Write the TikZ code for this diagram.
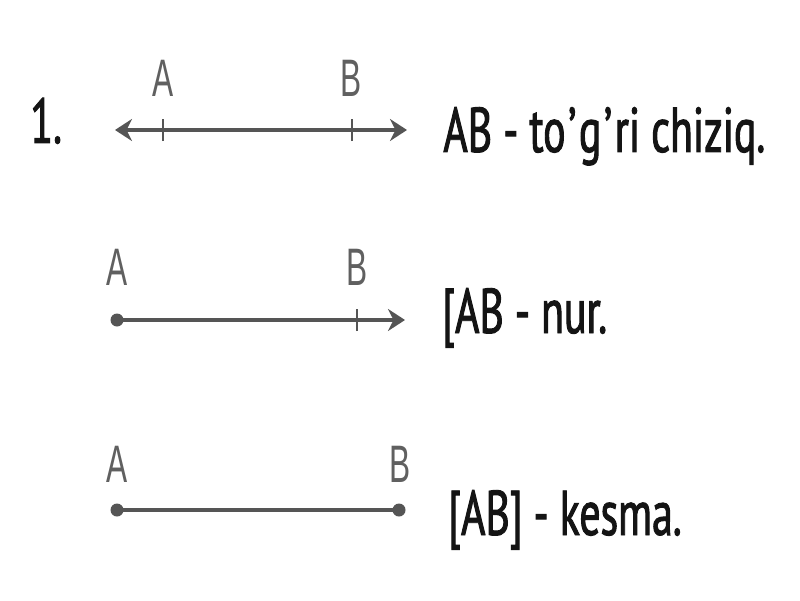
\documentclass[tikz,border=0pt]{standalone}
\usepackage{fontspec}
\setmainfont{PT Sans}[FakeStretch=0.72]
\newfontfamily\captionfont{PT Sans}[FakeStretch=0.66, RawFeature={embolden=1.5}]
\newfontfamily\labelfont{Liberation Sans}[FakeStretch=0.6]
\usetikzlibrary{arrows.meta}
\definecolor{linegray}{HTML}{555555}
\definecolor{labelgray}{HTML}{606060}
\definecolor{textblack}{HTML}{141414}
\newcommand{\apos}{\kern1.5pt’\kern1.5pt}

\begin{document}
\begin{tikzpicture}[
	>= {Stealth[length = 0.34cm, width = 0.44cm]},
	line/.style = {line width = 2.4pt, draw = linegray},
	tick/.style = {line width = 1.1pt, draw = linegray},
	endpoint/.style = {circle, fill = linegray, inner sep = 0pt, minimum width = 0.2cm, minimum height = 0.26cm},
	pointlabel/.style = {anchor = base, inner sep = 0pt, text = labelgray, font = \labelfont\fontsize{30}{30}\selectfont},
	caption/.style = {anchor = base west, inner sep = 0pt, text = textblack, font = \captionfont\fontsize{36}{36}\selectfont}
]
\useasboundingbox[fill = white] (0, 0) rectangle (16, 12);

\node[caption] (num) at (0.6, 9.14) {1.};

% to'g'ri chiziq
\coordinate (L1) at (2.3, 9.4);
\coordinate (R1) at (8.14, 9.4);
\coordinate (A1) at (3.26, 9.4);
\coordinate (B1) at (7.04, 9.4);
\draw[line, <->] (L1) -- (R1);
\draw[tick] ([yshift = -0.22cm] A1) -- ([yshift = 0.22cm] A1);
\draw[tick] ([yshift = -0.22cm] B1) -- ([yshift = 0.22cm] B1);
\node[pointlabel] (a1) at (3.26, 10.06) {A};
\node[pointlabel] (b1) at (7.02, 10.06) {B};
\node[caption] (c1) at (8.86, 8.96) {AB - to\apos g\apos ri chiziq.};

% nur
\coordinate (A2) at (2.34, 5.6);
\coordinate (B2) at (7.14, 5.6);
\coordinate (R2) at (8.1, 5.6);
\draw[line, ->] (A2) -- (R2);
\node[endpoint] (p2) at (A2) {};
\draw[tick] ([yshift = -0.22cm] B2) -- ([yshift = 0.22cm] B2);
\node[pointlabel] (a2) at (2.34, 6.3) {A};
\node[pointlabel] (b2) at (7.14, 6.3) {B};
\node[caption] (c2) at (8.84, 5.34) {[AB - nur.};

% kesma
\coordinate (A3) at (2.34, 1.8);
\coordinate (B3) at (7.98, 1.8);
\draw[line] (A3) -- (B3);
\node[endpoint] (p3) at (A3) {};
\node[endpoint] (q3) at (B3) {};
\node[pointlabel] (a3) at (2.34, 2.36) {A};
\node[pointlabel] (b3) at (8.0, 2.36) {B};
\node[caption] (c3) at (8.96, 1.3) {[AB] - kesma.};
\end{tikzpicture}
\end{document}
